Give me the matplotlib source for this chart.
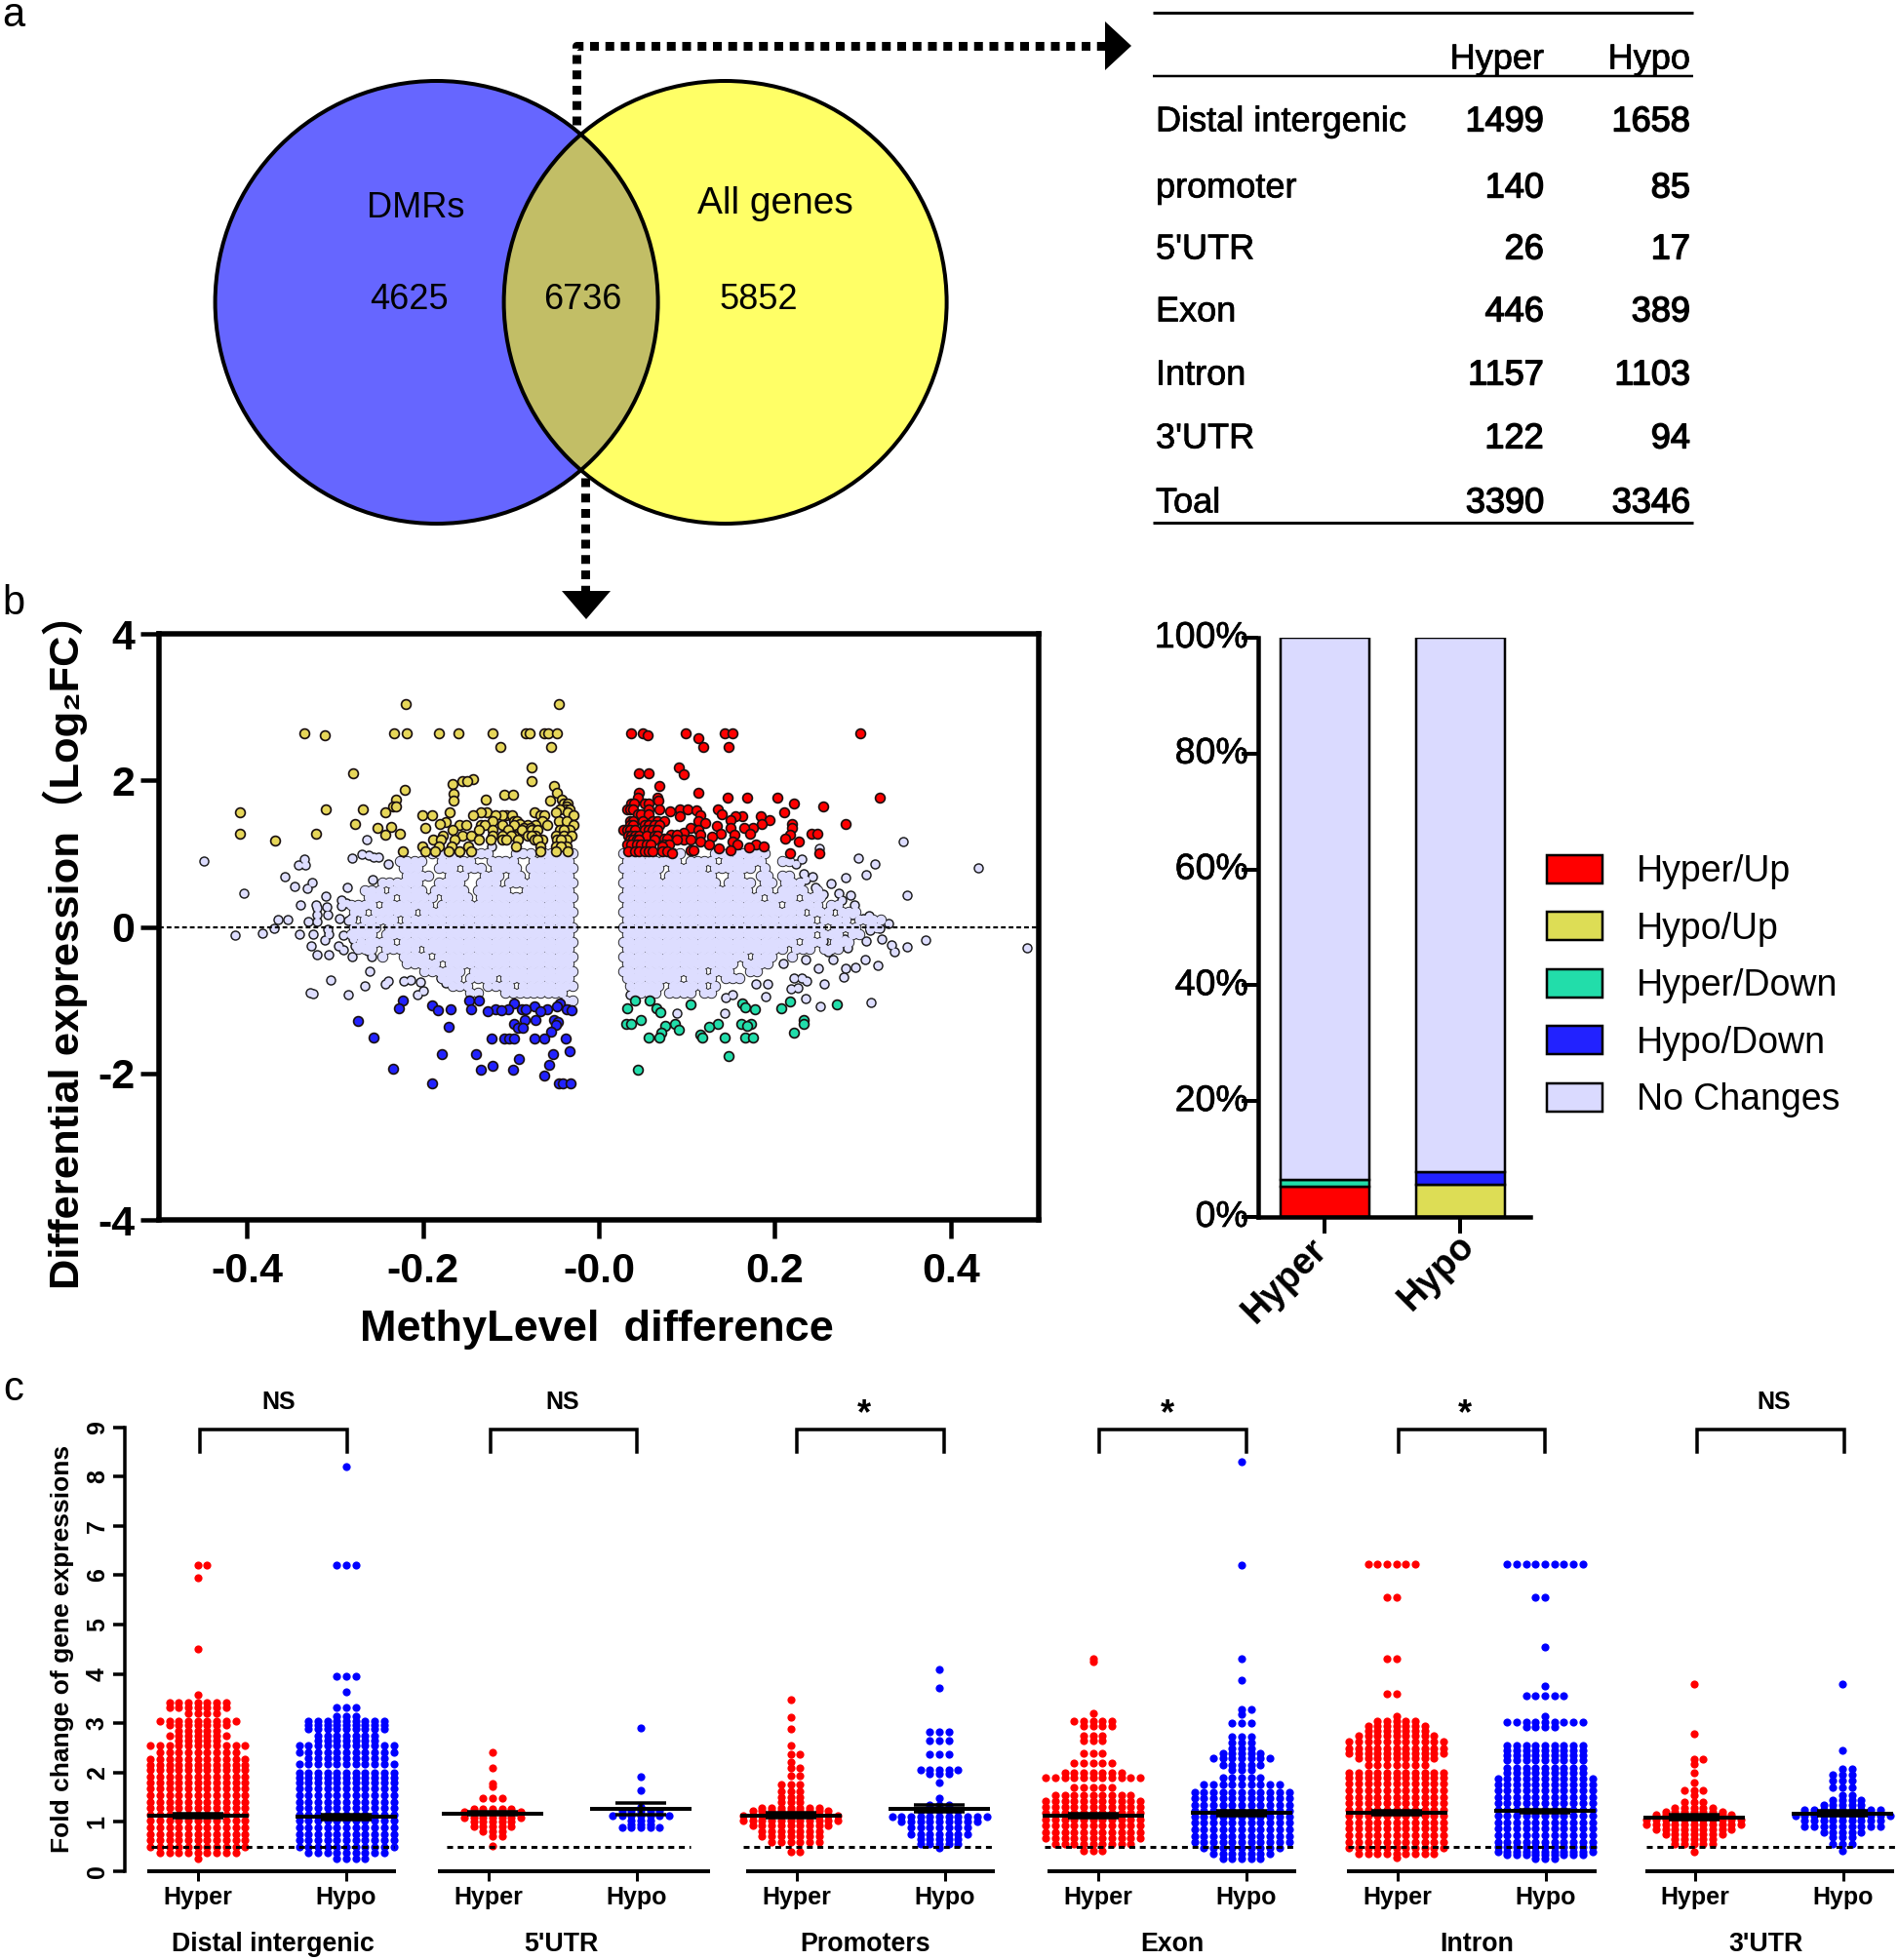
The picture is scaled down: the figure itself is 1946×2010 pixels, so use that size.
import matplotlib
matplotlib.use("Agg")
import matplotlib.pyplot as plt
import matplotlib.patheffects as pe
from matplotlib.patches import Circle, Polygon, Patch
from matplotlib.transforms import ScaledTranslation

FONT = ['Liberation Sans', 'Noto Sans CJK SC', 'DejaVu Sans']
plt.rcParams['font.family'] = FONT

W, H = 1946, 2010
DPI = 100
PX = 72 / DPI

# ---------- panel a data ----------
venn_labels = ["DMRs", "All genes"]
venn_counts = [4625, 6736, 5852]
table_cols = ["Hyper", "Hypo"]
table_rows = ["Distal intergenic", "promoter", "5'UTR", "Exon", "Intron", "3'UTR", "Toal"]
table_hyper = [1499, 140, 26, 446, 1157, 122, 3390]
table_hypo = [1658, 85, 17, 389, 1103, 94, 3346]

# ---------- panel b scatter data ----------
# dense no-change cloud: one row string per y level, each '#' is one gene cell
CLOUD_Y = [1.0, .9, .8, .7, .6, .5, .4, .3, .2, .1, 0.0, -.1, -.2, -.3, -.4, -.5, -.6, -.7, -.8, -.9, -1.0]
CLOUD_LEFT = [
    "#####.###...###..####",
    "######..####..#####..####",
    "#######.####.###.###..###",
    "######.##.###..###..####",
    "##########.###..####..######",
    "#######..#####.#####.#####.###",
    "##############.####.#####.####",
    "###################.#######.####",
    "######################.######.##",
    "########################.#####.#",
    "###########################.####",
    "###########################.####",
    "#########################.#####",
    "#####################.#####.###",
    "####################.####..#",
    "##################.#####",
    "###############.######",
    "##########.####.###",
    "########.####..###",
    ".#########...##",
    "##",
]
CLOUD_RIGHT = [
    "#####.###....########",
    "########.####.######..##",
    "######.#####.######.#",
    "#####.#######..##..##.##",
    "##############.####.##.###",
    "##################.##.####.#",
    "####################.####.###",
    "######################.#####.##",
    "##########################.###.###",
    "###########################.####.####",
    "#############################.####.##",
    "###########################.###.##",
    "#########################.###.###",
    "#######################.###.###",
    "##################.###..#",
    "################.####",
    "############.###..##",
    "########.####.###",
    ".#####.#####.#",
    ".####.####.##",
    "",
]
sparse_x = [-.449, -.404, -.413, -.383, -.369, -.365, -.354, -.339, -.357, -.346, -.332, -.326, -.342, -.335, -.334,
            -.340, -.325, -.312, -.327, -.320, -.307, -.280, -.305, -.328, -.325, -.285, -.266, -.261, -.243, -.239,
            -.222, -.214, -.203, -.200, -.206, -.180, -.174, -.163, -.122, -.264, -.281, -.269, -.262, -.256, -.251,
            -.239, -.220, -.215, -.286, -.257, -.310, -.322, -.320, -.309, -.308, -.320, -.330, -.320, -.308, -.307,
            -.293, -.287, -.293, -.295, -.285, -.281, -.290, -.279, -.278, -.296, -.290, -.277, -.263, -.258,
            .431, .487, .371, .350, .346, .350, .336, .333, .322, .329, .317, .314, .304, .295, .280, .286, .273, .276,
            .264, .255, .246, .243, .233, .235, .231, .224, .250, .309, .252, .235, .256, .278, .292, .303, .190, .179,
            .192, .144, .152, .143, .089, .035, .222, .231, .236, .226, .218, .249, .266, .260, .281, .283, .292, .304,
            .270, .279, .255, .235, .209, .307, .300, .288, .281, .266, .260, .264, .291, .310, .319, .308, .290]
sparse_y = [.905, .46, -.107, -.09, -.02, .10, .10, .30, .69, .55, .52, .60, .85, .93, .85,
            -.10, -.10, -.18, -.26, -.38, -.38, -.41, -.73, -.90, -.91, -.93, -.81, -.61, -.78, -.74,
            -.74, -.72, -.75, -.87, -.92, -.70, -.77, -.62, 1.10, 1.19, .94, .99, .98, .95, .95,
            .86, .86, .70, .54, .65, .42, .30, .26, .27, .17, .17, .07, .07, -.03, -.10,
            .37, .32, .28, .11, .08, .13, -.11, -.16, -.05, -.26, -.31, -.26, -.33, -.40,
            .81, -.28, -.18, .43, 1.16, -.27, -.34, -.24, -.16, .05, -.52, .86, .71, .94, .67, .43, .46, .37,
            .59, .45, .54, .69, .73, .64, .93, .86, 1.07, -1.03, -1.09, -.98, -.78, -.68, -.55, -.44, -.95, -.78,
            -.78, -.97, -.93, -1.18, -1.18, -.92, -.70, -.70, -.74, -.83, -.85, -.57, -.45, -.34, -.56, -.29, -.09, -.19,
            -.12, -.17, -.19, -.45, -.50, .15, .11, .17, .15, .08, .19, .29, .30, .06, -.02, -.04, -.07]

# coloured genes, by y level: {y: [x, ...]}
hypo_up = {
    3.04: [-.219, -.045],
    2.64: [-.335, -.233, -.218, -.182, -.160, -.121, -.083, -.079, -.062, -.058, -.048],
    2.62: [-.311],
    2.46: [-.112, -.054],
    2.18: [-.077], 2.10: [-.279], 2.02: [-.143], 1.99: [-.077, -.155, -.150], 1.95: [-.166],
    1.92: [-.051], 1.87: [-.221], 1.83: [-.048], 1.82: [-.165],
    1.81: [-.108, -.098], 1.74: [-.231, -.129, -.042], 1.72: [-.165, -.055], 1.68: [-.040, -.036], 1.64: [-.234, -.231, -.037],
    1.61: [-.310, -.268, -.038, -.044, -.033], 1.57: [-.408, -.243, -.073, -.049, -.035, -.127, -.134, -.170],
    1.53: [-.201, -.190, -.105, -.067], 1.52: [-.110, -.099, -.062, -.029, -.143, -.118],
    1.45: [-.121, -.097, -.064, -.046, -.037, -.093], 1.43: [-.174],
    1.40: [-.277, -.181, -.090], 1.39: [-.158, -.151, -.134, -.110, -.096, -.081, -.059, -.029, -.130, -.072],
    1.37: [-.236], 1.35: [-.252, -.197, -.085, -.078],
    1.32: [-.166, -.136, -.121, -.103, -.088, -.077, -.044, -.033, -.070, -.040],
    1.27: [-.408, -.322, -.226], 1.26: [-.243],
    1.25: [-.177, -.155, -.145, -.121, -.110, -.096, -.081, -.072, -.049, -.040, -.031, -.077, -.100],
    1.19: [-.188, -.180, -.164, -.136, -.123, -.110, -.092, -.073, -.064, -.048, -.037, -.105, -.070, -.043],
    1.18: [-.368],
    1.10: [-.201, -.182, -.167, -.149, -.094, -.066, -.049, -.037, -.043],
    1.03: [-.223, -.197, -.186, -.171, -.158, -.145, -.066, -.049, -.035],
}
hyper_up = {
    2.64: [.037, .050, .099, .143, .152, .297], 2.62: [.055], 2.58: [.113], 2.46: [.119, .148],
    2.18: [.091], 2.10: [.046, .057], 2.08: [.097], 1.92: [.069], 1.83: [.045, .113],
    1.77: [.044, .066, .146, .168, .203, .319], 1.72: [.068], 1.69: [.222], 1.68: [.037, .040, .052, .056], 1.65: [.255],
    1.61: [.032, .036, .039, .056, .069, .092, .101, .135], 1.59: [.111], 1.58: [.081], 1.57: [.211],
    1.54: [.044, .048, .056, .140], 1.53: [.115], 1.51: [.184, .163, .155, .092],
    1.46: [.194, .150], 1.45: [.035, .039, .050, .061, .066, .074, .113], 1.42: [.121], 1.41: [.219], 1.40: [.185, .281],
    1.39: [.035, .039, .052, .057, .063, .069], 1.38: [.134], 1.35: [.220, .175, .165, .150, .104],
    1.32: [.028, .032, .035, .041, .052, .056, .061, .066, .113], 1.28: [.096], 1.27: [.242, .248, .172, .139],
    1.26: [.217, .154, .115, .082, .089], 1.25: [.033, .037, .041, .046, .054, .063, .067], 1.23: [.129], 1.21: [.074, .078],
    1.20: [.212], 1.19: [.035, .039, .043, .046, .063, .096, .104, .089], 1.17: [.227, .152, .115],
    1.13: [.157], 1.12: [.179, .032, .037, .043, .048, .054, .059, .074, .080, .125], 1.10: [.187, .072],
    1.08: [.171], 1.07: [.136], 1.04: [.150, .104, .107], 1.03: [.033, .041, .045, .052, .056, .061, .072, .078], 1.01: [.083],
    1.00: [.217, .250],
}
hypo_down = {
    -1.01: [-.223, -.148, -.136], -1.04: [-.096], -1.05: [-.044], -1.07: [-.190],
    -1.09: [-.073, -.048], -1.11: [-.227], -1.12: [-.118, -.103, -.088, -.037],
    -1.13: [-.169, -.145, -.083, -.059], -1.14: [-.183, -.111, -.031], -1.15: [-.126, -.067],
    -1.27: [-.084, -.072, -.051], -1.29: [-.274], -1.30: [-.047], -1.33: [-.097], -1.34: [-.049],
    -1.37: [-.171], -1.38: [-.092, -.086], -1.43: [-.054], -1.51: [-.256],
    -1.52: [-.122, -.108, -.102, -.097, -.073, -.062, -.038],
    -1.70: [-.033], -1.74: [-.179, -.140, -.052], -1.81: [-.091], -1.88: [-.056], -1.90: [-.121],
    -1.94: [-.234], -1.95: [-.134, -.098], -2.03: [-.062], -2.14: [-.190, -.046, -.041, -.032],
}
hyper_down = {
    -1.00: [.041, .058], -1.02: [.217], -1.04: [.163], -1.06: [.104, .270], -1.10: [.166],
    -1.11: [.032, .065, .207], -1.13: [.177], -1.16: [.070], -1.27: [.048, .233],
    -1.33: [.031, .037, .087, .135, .162, .173, .233], -1.35: [.075, .169], -1.37: [.125], -1.40: [.091],
    -1.45: [.071, .222], -1.47: [.115], -1.51: [.057, .069, .117, .143, .166, .175], -1.76: [.147], -1.95: [.044],
}

# ---------- panel b stacked bars ----------
bar_groups = ["Hyper", "Hypo"]
stack_names = ["Hyper/Up", "Hypo/Up", "Hyper/Down", "Hypo/Down", "No Changes"]
stack_colors = ["#FF0000", "#DDDD55", "#22DDAA", "#2222FF", "#DADAFF"]
stack_hyper = [5.2, 0, 1.2, 0, 93.6]
stack_hypo = [0, 5.5, 0, 2.3, 92.2]

# ---------- panel c data: (level of fold change, number of genes at that level) ----------
groups = ["Distal intergenic", "5'UTR", "Promoters", "Exon", "Intron", "3'UTR"]
sig = ["NS", "NS", "*", "*", "*", "NS"]
di_hyper_y = [.25, .38, .5, .63, .76, .89, 1.02, 1.15, 1.28, 1.41, 1.54, 1.67, 1.8, 1.92, 2.05, 2.16, 2.28, 2.42, 2.54, 2.64, 2.74, 2.85, 2.97, 3.05, 3.2, 3.32, 3.41, 3.57, 4.5, 5.95, 6.2]
di_hyper_n = [1, 9, 11, 11, 11, 11, 11, 11, 11, 11, 11, 11, 11, 11, 11, 11, 11, 9, 11, 5, 7, 5, 7, 9, 4, 7, 7, 1, 1, 1, 2]
di_hypo_y = [.25, .38, .5, .63, .76, .89, 1.02, 1.15, 1.28, 1.41, 1.54, 1.67, 1.8, 1.9, 2.0, 2.18, 2.3, 2.42, 2.55, 2.65, 2.75, 2.88, 2.97, 3.05, 3.15, 3.33, 3.64, 3.96, 6.2, 8.2]
di_hypo_n = [4, 9, 11, 11, 11, 11, 11, 11, 11, 11, 11, 11, 11, 11, 11, 11, 9, 11, 11, 7, 7, 9, 9, 9, 3, 3, 1, 3, 3, 1]
u5_hyper_y = [.52, .72, .82, .9, 1.0, 1.08, 1.2, 1.27, 1.48, 1.72, 1.78, 2.1, 2.41]
u5_hyper_n = [1, 2, 3, 5, 5, 7, 7, 5, 3, 1, 1, 1, 1]
u5_hypo_y = [.88, .95, 1.02, 1.12, 1.22, 1.3, 1.65, 1.92, 2.9]
u5_hypo_n = [5, 3, 3, 7, 5, 1, 1, 1, 1]
pr_hyper_y = [.4, .6, .72, .82, .92, 1.02, 1.12, 1.22, 1.28, 1.4, 1.5, 1.62, 1.75, 1.93, 2.1, 2.22, 2.38, 2.55, 2.88, 3.13, 3.47]
pr_hyper_n = [2, 6, 7, 7, 9, 11, 11, 9, 7, 3, 3, 3, 3, 2, 2, 1, 2, 1, 1, 1, 1]
pr_hypo_y = [.48, .55, .65, .75, .88, 1.0, 1.1, 1.22, 1.35, 1.48, 1.8, 1.98, 2.05, 2.37, 2.65, 2.82, 3.72, 4.1]
pr_hypo_n = [1, 5, 5, 7, 7, 9, 11, 5, 3, 1, 1, 3, 5, 3, 3, 3, 1, 1]
ex_hyper_y = [.42, .55, .68, .8, .92, 1.05, 1.18, 1.3, 1.42, 1.55, 1.7, 1.9, 2.0, 2.2, 2.4, 2.65, 2.75, 2.95, 3.05, 3.2, 4.25, 4.3]
ex_hyper_n = [3, 9, 11, 11, 11, 11, 11, 11, 11, 9, 5, 11, 7, 5, 3, 3, 3, 4, 5, 1, 1, 1]
ex_hypo_y = [.25, .35, .48, .6, .72, .85, .98, 1.1, 1.22, 1.35, 1.48, 1.6, 1.75, 1.9, 2.05, 2.15, 2.3, 2.4, 2.5, 2.6, 2.72, 3.0, 3.18, 3.28, 3.87, 4.3, 6.2, 8.3]
ex_hypo_n = [5, 7, 9, 11, 11, 11, 11, 11, 11, 11, 11, 11, 9, 5, 3, 5, 7, 5, 3, 3, 3, 3, 1, 2, 1, 1, 1, 1]
in_hyper_y = [.28, .35, .47, .6, .73, .86, .99, 1.12, 1.25, 1.38, 1.51, 1.64, 1.77, 1.9, 2.0, 2.15, 2.3, 2.4, 2.5, 2.63, 2.75, 2.85, 2.95, 3.05, 3.15, 3.6, 4.3, 5.55, 6.22]
in_hyper_n = [1, 9, 11, 11, 11, 11, 11, 11, 11, 11, 11, 11, 11, 11, 11, 7, 9, 11, 11, 11, 9, 7, 7, 5, 1, 2, 2, 2, 6]
in_hypo_y = [.25, .33, .4, .5, .6, .73, .86, .99, 1.12, 1.25, 1.38, 1.51, 1.64, 1.75, 1.88, 2.0, 2.1, 2.25, 2.35, 2.45, 2.55, 2.92, 3.03, 3.15, 3.55, 3.75, 4.55, 5.55, 6.22]
in_hypo_n = [3, 9, 11, 11, 11, 11, 11, 11, 11, 11, 11, 11, 11, 11, 11, 9, 9, 9, 9, 9, 9, 4, 9, 1, 5, 1, 1, 2, 9]
u3_hyper_y = [.4, .55, .65, .75, .85, .95, 1.05, 1.15, 1.2, 1.28, 1.4, 1.55, 1.65, 1.8, 2.0, 2.18, 2.28, 2.78, 3.8]
u3_hyper_n = [1, 5, 5, 7, 9, 11, 11, 9, 7, 5, 3, 1, 3, 1, 1, 1, 2, 1, 1]
u3_hypo_y = [.42, .55, .7, .8, .9, 1.02, 1.12, 1.25, 1.35, 1.45, 1.55, 1.7, 1.83, 1.95, 2.08, 2.45, 3.8]
u3_hypo_n = [1, 3, 3, 5, 9, 9, 11, 9, 5, 4, 2, 3, 3, 3, 2, 1, 1]
swarm_y = [di_hyper_y, di_hypo_y, u5_hyper_y, u5_hypo_y, pr_hyper_y, pr_hypo_y, ex_hyper_y, ex_hypo_y, in_hyper_y, in_hypo_y, u3_hyper_y, u3_hypo_y]
swarm_n = [di_hyper_n, di_hypo_n, u5_hyper_n, u5_hypo_n, pr_hyper_n, pr_hypo_n, ex_hyper_n, ex_hypo_n, in_hyper_n, in_hypo_n, u3_hyper_n, u3_hypo_n]
means = [1.13, 1.10, 1.17, 1.26, 1.13, 1.27, 1.13, 1.18, 1.18, 1.22, 1.09, 1.17]
sems = [.045, .045, .03, .12, .05, .07, .045, .05, .04, .03, .05, .05]

# ---------- helpers / layout ----------
fig = plt.figure(figsize=(W / DPI, H / DPI), dpi=DPI, facecolor='white')


def axes_px(x0, y0, x1, y1):
    return fig.add_axes([x0 / W, 1 - y1 / H, (x1 - x0) / W, (y1 - y0) / H])


def shift(label, dx, dy):
    label.set_transform(label.get_transform() + ScaledTranslation(dx * PX / 72, dy * PX / 72, fig.dpi_scale_trans))


def heavy(width):
    return [pe.withStroke(linewidth=width * PX, foreground='black')]


ov = fig.add_axes([0, 0, 1, 1], zorder=5)
ov.set_xlim(0, W)
ov.set_ylim(H, 0)
ov.axis('off')
ov.patch.set_alpha(0)

# panel letters
for s, x, y in [("a", 14, 16), ("b", 14, 619), ("c", 14, 1425)]:
    ov.text(x, y, s, fontsize=30, ha='center', va='center')

# ---------- panel a ----------
cL, cR, cY, R = 447.6, 743.6, 310, 227
left = Circle((cL, cY), R, fc="#6666FF", ec='none')
right = Circle((cR, cY), R, fc="#FFFF66", ec='none')
ov.add_patch(left)
ov.add_patch(right)
both = Circle((cL, cY), R, fc="#C2BE66", ec='none')
ov.add_patch(both)
both.set_clip_path(Circle((cR, cY), R, transform=ov.transData))
ov.add_patch(Circle((cL, cY), R, fc='none', ec='black', lw=4 * PX))
ov.add_patch(Circle((cR, cY), R, fc='none', ec='black', lw=4 * PX))
VF = 26
ov.text(426, 213, venn_labels[0], fontsize=VF, ha='center', va='center')
ov.text(795, 209, venn_labels[1], fontsize=28, ha='center', va='center')
for v, x in zip(venn_counts, [419, 597, 778]):
    ov.text(x, 307, str(v), fontsize=VF, ha='center', va='center')

dash = (0, (1, 0.75))
ov.plot([591, 591, 1135], [128, 47, 47], color='k', lw=9 * PX, ls=dash, dash_capstyle='butt')
ov.add_patch(Polygon([(1133, 22), (1160, 47), (1133, 72)], fc='k', ec='none'))
ov.plot([600, 600], [490, 606], color='k', lw=9 * PX, ls=dash, dash_capstyle='butt')
ov.add_patch(Polygon([(576, 606), (626, 606), (601, 635)], fc='k', ec='none'))

# table
for y, lw in [(13, 3), (78, 2.5), (536, 3)]:
    ov.plot([1182, 1736], [y, y], color='k', lw=lw * PX, solid_capstyle='butt')
TF = 26
ov.text(1583, 61, table_cols[0], fontsize=TF, ha='right', va='center', path_effects=heavy(0.7))
ov.text(1733, 61, table_cols[1], fontsize=TF, ha='right', va='center', path_effects=heavy(0.7))
for name, a, b, y in zip(table_rows, table_hyper, table_hypo, [125, 193, 256, 320, 385, 450, 516]):
    ov.text(1185, y, name, fontsize=TF, ha='left', va='center', path_effects=heavy(0.7))
    ov.text(1583, y, str(a), fontsize=TF, ha='right', va='center', path_effects=heavy(1.4))
    ov.text(1733, y, str(b), fontsize=TF, ha='right', va='center', path_effects=heavy(1.4))

# ---------- panel b scatter ----------
ax = axes_px(163, 650, 1065, 1251)
ax.set_xlim(-0.5, 0.5)
ax.set_ylim(-4, 4)
CELL = 0.008
cx, cy = [], []
for k, (yv, rl, rr) in enumerate(zip(CLOUD_Y, CLOUD_LEFT, CLOUD_RIGHT)):
    stag = CELL / 2 if k % 2 else 0
    for i, c in enumerate(rl):
        if c == '#':
            cx.append(-0.03 - i * CELL - stag)
            cy.append(yv)
    for i, c in enumerate(rr):
        if c == '#':
            cx.append(0.028 + i * CELL + stag)
            cy.append(yv)
# outlines first, fills on top: overlapping genes merge into one outlined mass
ax.scatter(cx, cy, s=(11.4 * PX) ** 2, c='#1a1a1a', linewidths=0, zorder=2)
ax.scatter(sparse_x, sparse_y, s=(10.5 * PX) ** 2, c='#1a1a1a', linewidths=0, zorder=2)
ax.scatter(sparse_x, sparse_y, s=(7.6 * PX) ** 2, c='#DDDDFF', linewidths=0, zorder=3)
ax.scatter(cx, cy, s=(9.6 * PX) ** 2, c='#DDDDFF', linewidths=0, zorder=3)
for d, col in [(hypo_up, '#E6D659'), (hyper_up, '#FF0000'), (hypo_down, '#2222FF'), (hyper_down, '#22DDAA')]:
    xs = [x for y, row in d.items() for x in row]
    ys = [y for y, row in d.items() for x in row]
    ax.scatter(xs, ys, s=(9.8 * PX) ** 2, c=col, edgecolors='#1a1010', linewidths=1.7 * PX, zorder=4)
ax.axhline(0, color='k', lw=2.2 * PX, ls=(0, (2.2, 1.4)), zorder=5)
for s in ax.spines.values():
    s.set_linewidth(5.5 * PX)
ax.set_xticks([-.4, -.2, 0, .2, .4])
ax.set_xticklabels(["-0.4", "-0.2", "-0.0", "0.2", "0.4"])
ax.set_yticks([-4, -2, 0, 2, 4])
ax.set_yticklabels(["-4", "-2", "0", "2", "4"])
ax.tick_params(axis='y', length=19 * PX, width=4.5 * PX, labelsize=31, pad=4)
ax.tick_params(axis='x', length=19 * PX, width=4.5 * PX, labelsize=31, pad=10)
for t in ax.get_xticklabels() + ax.get_yticklabels():
    t.set_fontweight('bold')
ov.text(612, 1363, "MethyLevel  difference", fontsize=32.5, fontweight='bold', ha='center', va='center')
ov.text(67, 965, "Differential expression（Log₂FC）", fontsize=31.3, fontweight='bold', rotation=90, ha='center', va='center')

# ---------- panel b stacked bars ----------
bx = axes_px(1290, 654, 1569, 1248)
bx.set_ylim(0, 100)
bx.set_xlim(1290, 1569)
bar_pos = [1358, 1497]
for vals, pos in zip([stack_hyper, stack_hypo], bar_pos):
    base = 0
    for v, col in zip(vals, stack_colors):
        if v > 0:
            bx.bar(pos, v, bottom=base, width=91, color=col, edgecolor='k', linewidth=2.5 * PX)
            base += v
for s in ['top', 'right']:
    bx.spines[s].set_visible(False)
bx.spines['left'].set_linewidth(4.5 * PX)
bx.spines['bottom'].set_linewidth(4.5 * PX)
bx.set_yticks([0, 20, 40, 60, 80, 100])
bx.set_yticklabels(["0%", "20%", "40%", "60%", "80%", "100%"])
bx.set_xticks(bar_pos)
bx.set_xticklabels(bar_groups, rotation=45, ha='right', rotation_mode='anchor', fontsize=27, fontweight='bold')
bx.tick_params(axis='y', length=17 * PX, width=4 * PX, labelsize=27, pad=-5)
bx.tick_params(axis='x', length=17 * PX, width=4 * PX, pad=10)
for lab in bx.get_yticklabels():
    shift(lab, 0, 4)
    lab.set_path_effects(heavy(0.7))
for lab, (dx, dy) in zip(bx.get_xticklabels(), [(-16, 15), (-4, 20)]):
    shift(lab, dx, dy)
handles = [Patch(fc=c, ec='k', lw=2.5 * PX) for c in stack_colors]
fig.legend(handles, stack_names, loc='upper left', bbox_to_anchor=(1575 / W, 1 - 865 / H), frameon=False, fontsize=27,
           handlelength=1.5, handleheight=0.8, handletextpad=0.95, labelspacing=0.6, borderpad=0.3, borderaxespad=0)

# ---------- panel c ----------
Y0, UNIT = 1919, 50.6
cxa = axes_px(128, Y0 - 9 * UNIT, 1946, Y0)
cxa.patch.set_alpha(0)
cxa.set_xlim(128, 1946)
cxa.set_ylim(0, 9)
for s in ['top', 'right', 'bottom']:
    cxa.spines[s].set_visible(False)
cxa.spines['left'].set_linewidth(3.5 * PX)
cxa.set_yticks(range(10))
cxa.set_yticklabels([str(i) for i in range(10)], rotation=90, va='center', fontweight='bold', fontsize=18)
cxa.tick_params(axis='y', length=12 * PX, width=3.5 * PX, pad=3)

centers = [202.7, 355, 505, 657, 810.5, 963, 1120.6, 1273, 1431.6, 1584, 1736.6, 1889]
tick_x = [203, 355, 500.5, 652.7, 816.8, 968.7, 1125.7, 1277.6, 1433, 1585, 1738, 1890]
base_l = [151, 449, 765, 1074, 1381, 1687]
base_r = [406, 728, 1020, 1329, 1637, 1942]
dash_l = [155, 458, 762, 1071, 1382, 1688]
dash_r = [404, 708, 1017, 1326, 1638, 1943]
label_x = [280, 575, 887, 1202, 1514, 1810]
sig_x = [286, 577, 886, 1197, 1501.6, 1819]
br_l = [205, 503, 817, 1126.5, 1433.5, 1740]
br_r = [356, 653, 968, 1277.6, 1584, 1891]
SLOT = 9.7
for idx, (yl, nl, c0, m, se) in enumerate(zip(swarm_y, swarm_n, centers, means, sems)):
    col = '#FF0000' if idx % 2 == 0 else '#0000FF'
    lead = -1 if 8 <= idx <= 9 else 1
    xs, ys = [], []
    for y, n in zip(yl, nl):
        for k in range(n):
            off = (k + 1) // 2 * (lead if k % 2 else -lead)
            xs.append(c0 + off * SLOT)
            ys.append(y)
    cxa.scatter(xs, ys, s=(8.2 * PX) ** 2, c=col, linewidths=0, clip_on=False, zorder=3)
    cxa.hlines(m, c0 - 52, c0 + 52, color='k', lw=4 * PX, zorder=4)
    cxa.errorbar([c0], [m], yerr=[se], color='k', lw=3.5 * PX, capsize=26 * PX, capthick=3.5 * PX, zorder=4)
for i in range(6):
    cxa.hlines(0, base_l[i], base_r[i], color='k', lw=4 * PX, clip_on=False, zorder=2)
    cxa.hlines(0.5, dash_l[i], dash_r[i], color='k', lw=3 * PX, linestyles=(0, (2, 1.6)), zorder=5)
    cxa.plot([br_l[i], br_l[i], br_r[i], br_r[i]], [8.5, 8.96, 8.96, 8.5], color='k', lw=3.5 * PX, clip_on=False,
             solid_joinstyle='miter')
    is_star = sig[i] == '*'
    ov.text(sig_x[i], 1451 if is_star else 1438, sig[i], fontsize=26 if is_star else 18, fontweight='bold', ha='center', va='center')
    ov.text(label_x[i], 1994, groups[i], fontsize=19.3, fontweight='bold', ha='center', va='center')
cxa.set_xticks(tick_x)
cxa.set_xticklabels(["Hyper", "Hypo"] * 6, fontsize=18, fontweight='bold')
cxa.tick_params(axis='x', length=10 * PX, width=3 * PX, pad=3.5)
ov.text(64, 1691, "Fold change of gene expressions", fontsize=19, fontweight='bold', rotation=90, ha='center', va='center')

fig.savefig('out.png', dpi=DPI, facecolor='white')
